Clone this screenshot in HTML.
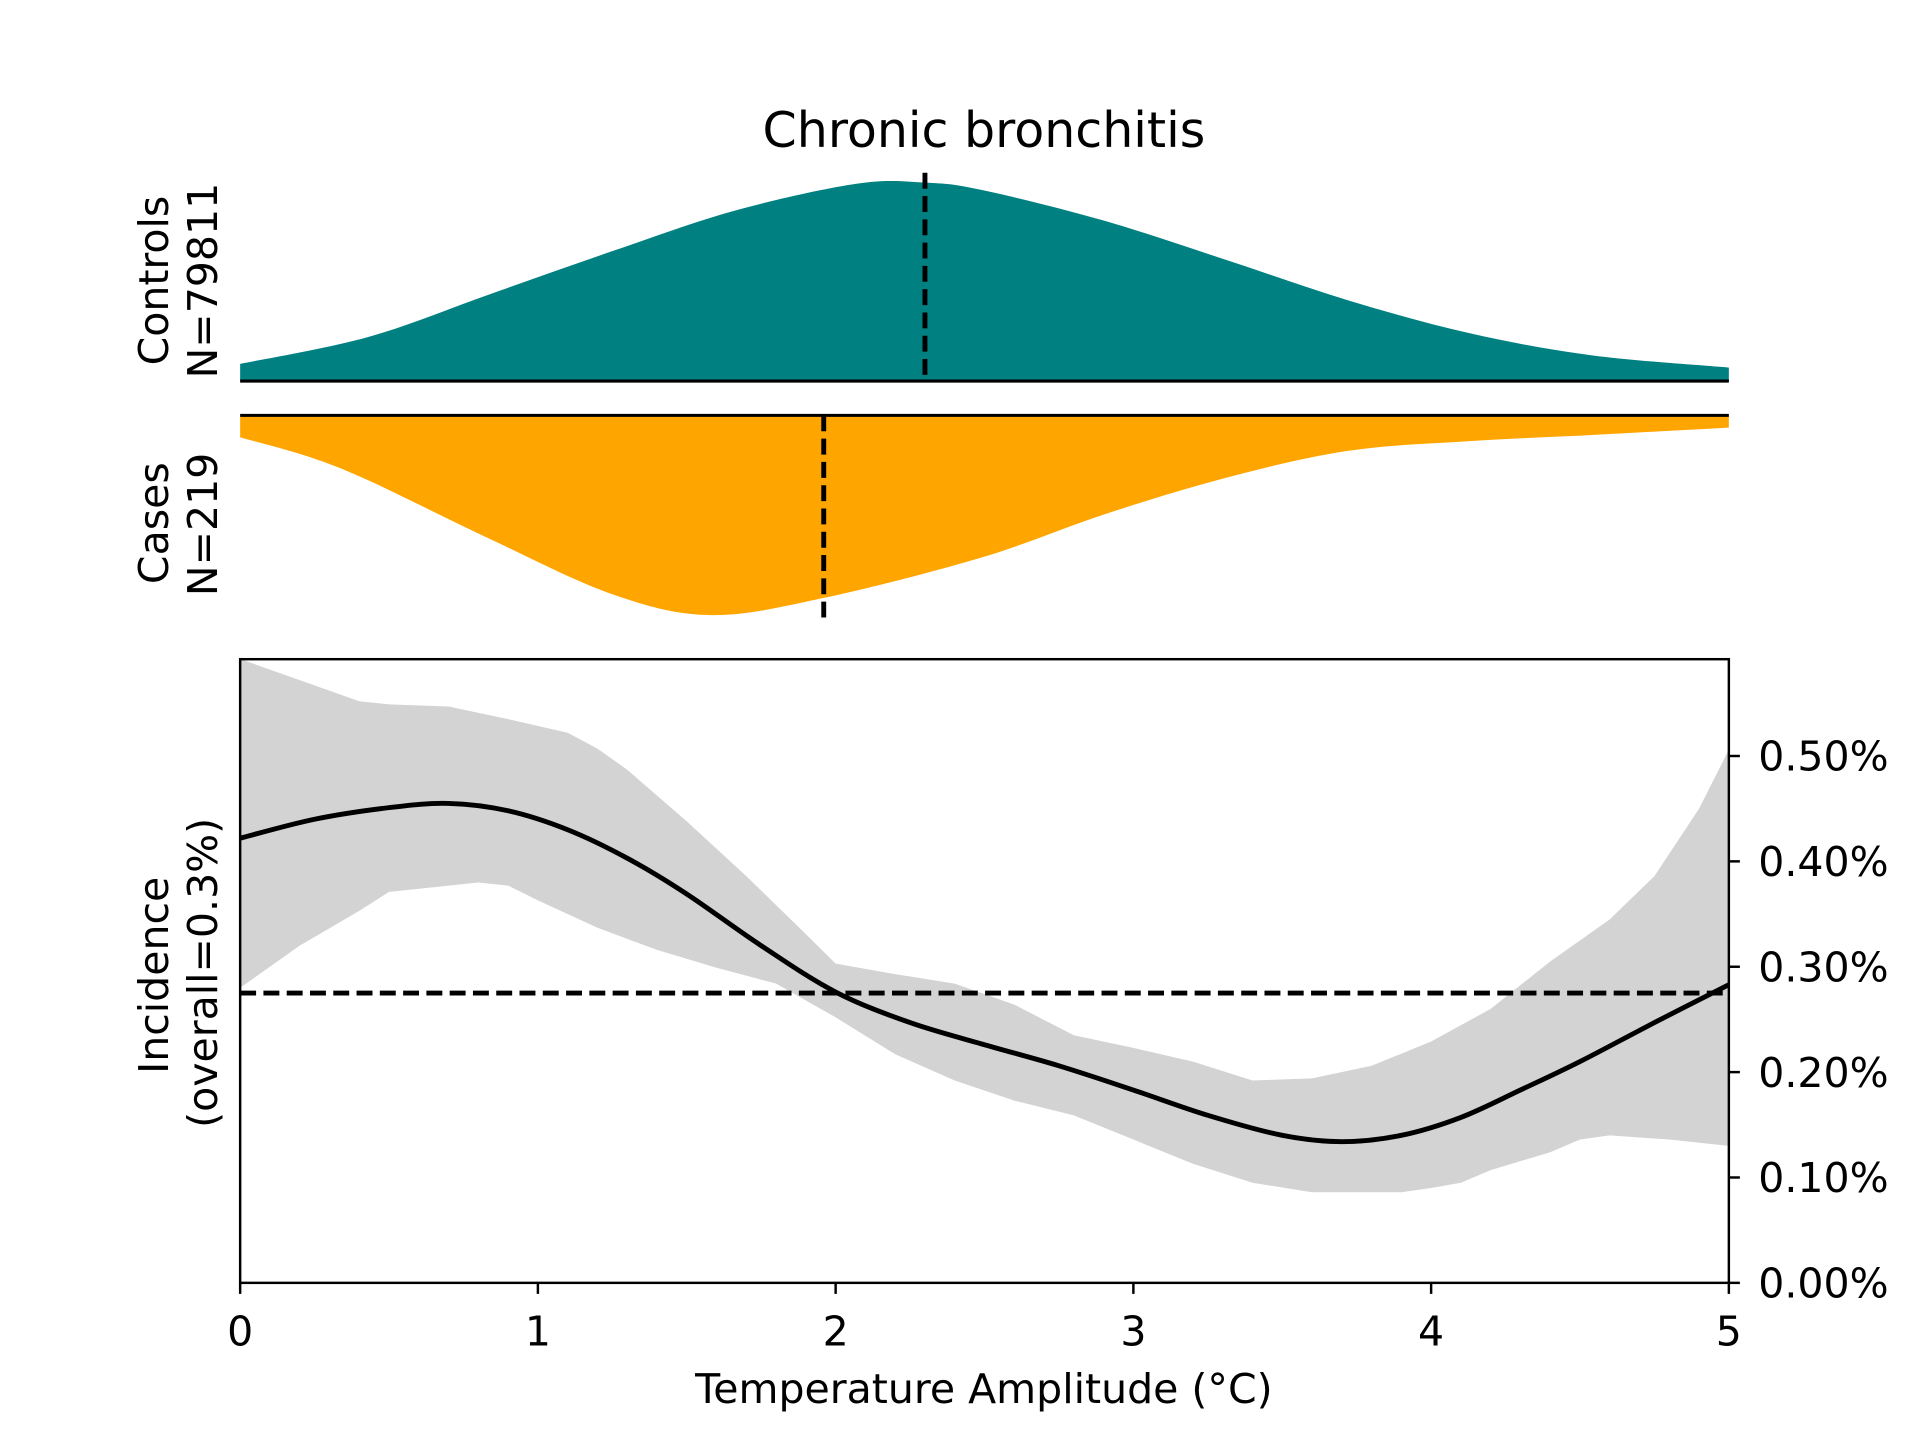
<!DOCTYPE html>
<html><head><meta charset="utf-8"><style>
html,body{margin:0;padding:0;background:#fff}
svg{display:block}
text{font-family:"DejaVu Sans","Liberation Sans",sans-serif;fill:#000}
</style></head><body>
<svg id="chart" width="1920" height="1440" viewBox="0 0 1567 1175.25" xmlns="http://www.w3.org/2000/svg">
<text x="803" y="120" font-size="40" text-anchor="middle">Chronic bronchitis</text>
<g id="topPanels"></g>
<g id="bottomPanel"></g>
<text transform="translate(137,229) rotate(-90)" font-size="33.5" text-anchor="middle">Controls</text>
<text transform="translate(177,229) rotate(-90)" font-size="33.5" text-anchor="middle">N=79811</text>
<text transform="translate(137,427) rotate(-90)" font-size="33.5" text-anchor="middle">Cases</text>
<text transform="translate(177,428) rotate(-90)" font-size="33.5" text-anchor="middle">N=219</text>
<text transform="translate(137,796) rotate(-90)" font-size="33.5" text-anchor="middle">Incidence</text>
<text transform="translate(177,794) rotate(-90)" font-size="33.5" text-anchor="middle">(overall=0.3%)</text>
<text x="803" y="1145" font-size="33.5" text-anchor="middle">Temperature Amplitude (°C)</text>
</svg>
<script>
const densX = [0,0.43,0.84,1.25,1.66,2.07,2.3,2.49,2.9,3.31,3.72,4.13,4.54,5];
const controlsDensity = [14,36,71,106,139,161,162,156,131,99,66,39,21,11];
const casesX = [0,0.22,0.43,0.84,1.25,1.58,1.96,2.49,2.9,3.31,3.72,4.13,4.54,5];
const casesDensity = [18,33,53,101,146,163,149,116,81,51,29,21,16,10];
const controlsMedian = 2.30;
const casesMedian = 1.96;
const lineX = [0,0.25,0.5,0.7,0.9,1.1,1.3,1.5,1.75,2.0,2.25,2.5,2.75,3.0,3.25,3.5,3.7,3.9,4.1,4.3,4.5,4.75,5.0];
const lineY = [0.422,0.44,0.451,0.455,0.448,0.43,0.403,0.369,0.32,0.276,0.247,0.226,0.206,0.183,0.159,0.14,0.134,0.14,0.157,0.183,0.21,0.247,0.283];
const upX = [0,0.2,0.4,0.5,0.7,0.9,1.1,1.2,1.3,1.5,1.7,1.9,2.0,2.2,2.4,2.6,2.8,3.0,3.2,3.4,3.6,3.8,4.0,4.2,4.4,4.6,4.75,4.9,5.0];
const upY = [0.592,0.572,0.552,0.549,0.547,0.535,0.522,0.507,0.487,0.438,0.386,0.331,0.303,0.293,0.284,0.264,0.235,0.223,0.21,0.192,0.194,0.206,0.229,0.26,0.305,0.345,0.386,0.45,0.506];
const loX = [0,0.2,0.4,0.5,0.8,0.9,1.0,1.2,1.4,1.6,1.8,2.0,2.2,2.4,2.6,2.8,3.0,3.2,3.4,3.6,3.9,4.0,4.1,4.2,4.4,4.5,4.6,4.8,5.0];
const loY = [0.28,0.32,0.353,0.371,0.38,0.377,0.363,0.337,0.316,0.299,0.284,0.252,0.217,0.192,0.173,0.159,0.136,0.113,0.095,0.086,0.086,0.09,0.095,0.107,0.124,0.136,0.14,0.136,0.13];
const overall = 0.275;
const xTicks = [0,1,2,3,4,5];
const yTicks = [0,0.1,0.2,0.3,0.4,0.5];
const yTickLabels = ["0.00%","0.10%","0.20%","0.30%","0.40%","0.50%"];

const NS="http://www.w3.org/2000/svg";
const X0=196,X1=1411,YB=1047,YT=538;
const sx=v=>X0+v/5*(X1-X0);
const sy=v=>YB-v/0.5*(YB-617);
const C_BASE=311,K_BASE=339;
function mk(tag,attrs,parent){const e=document.createElementNS(NS,tag);for(const k in attrs)e.setAttribute(k,attrs[k]);parent.appendChild(e);return e;}
function smooth(pts){let d="M"+pts[0][0]+","+pts[0][1];for(let i=0;i<pts.length-1;i++){const p0=pts[Math.max(0,i-1)],p1=pts[i],p2=pts[i+1],p3=pts[Math.min(pts.length-1,i+2)];const c1=[p1[0]+(p2[0]-p0[0])/6,p1[1]+(p2[1]-p0[1])/6],c2=[p2[0]-(p3[0]-p1[0])/6,p2[1]-(p3[1]-p1[1])/6];d+=" C"+c1[0]+","+c1[1]+" "+c2[0]+","+c2[1]+" "+p2[0]+","+p2[1];}return d;}
const gTop=document.getElementById('topPanels'),gBot=document.getElementById('bottomPanel');
const cp=densX.map((x,i)=>[sx(x),C_BASE-controlsDensity[i]]);
const ca=mk('path',{d:smooth(cp)+" L"+X1+","+C_BASE+" L"+X0+","+C_BASE+" Z",fill:"#008080"},gTop);


const kp=casesX.map((x,i)=>[sx(x),K_BASE+casesDensity[i]]);
const ka=mk('path',{d:smooth(kp)+" L"+X1+","+K_BASE+" L"+X0+","+K_BASE+" Z",fill:"#FFA500"},gTop);


const b1=mk('line',{x1:X0,x2:X1,y1:C_BASE,y2:C_BASE,stroke:"#000","stroke-width":2.5},gTop);


const b2=mk('line',{x1:X0,x2:X1,y1:K_BASE,y2:K_BASE,stroke:"#000","stroke-width":2.5},gTop);


const m1=mk('line',{x1:sx(controlsMedian),x2:sx(controlsMedian),y1:141,y2:C_BASE,stroke:"#000","stroke-width":4,"stroke-dasharray":"13,6"},gTop);


const m2=mk('line',{x1:sx(casesMedian),x2:sx(casesMedian),y1:K_BASE,y2:509,stroke:"#000","stroke-width":4,"stroke-dasharray":"13,6"},gTop);


const up=upX.map((x,i)=>[sx(x),sy(upY[i])]);
const lo=loX.map((x,i)=>[sx(x),sy(loY[i])]).reverse();
const band=mk('path',{d:"M"+up.map(p=>p.join(",")).join(" L")+" L"+lo.map(p=>p.join(",")).join(" L")+" Z",fill:"#d3d3d3"},gBot);


const ol=mk('line',{x1:X0,x2:X1,y1:sy(overall),y2:sy(overall),stroke:"#000","stroke-width":4,"stroke-dasharray":"13,6"},gBot);


const lp=lineX.map((x,i)=>[sx(x),sy(lineY[i])]);
const ln=mk('path',{d:smooth(lp),fill:"none",stroke:"#000","stroke-width":4},gBot);


const fr=mk('rect',{x:X0,y:YT,width:X1-X0,height:YB-YT,fill:"none",stroke:"#000","stroke-width":2},gBot);


xTicks.forEach(v=>{
  const t=mk('line',{x1:sx(v),x2:sx(v),y1:YB,y2:YB+9,stroke:"#000","stroke-width":2},gBot);
  
  
  const l=mk('text',{x:sx(v),y:YB+51,"font-size":33.5,"text-anchor":"middle"},gBot);
  l.textContent=String(v);
  
  
});
yTicks.forEach((v,i)=>{
  const t=mk('line',{x1:X1,x2:X1+9,y1:sy(v),y2:sy(v),stroke:"#000","stroke-width":2},gBot);
  
  
  const l=mk('text',{x:X1+24,y:sy(v)+12,"font-size":33.5},gBot);
  l.textContent=yTickLabels[i];
  
  
});
</script>
</body></html>
